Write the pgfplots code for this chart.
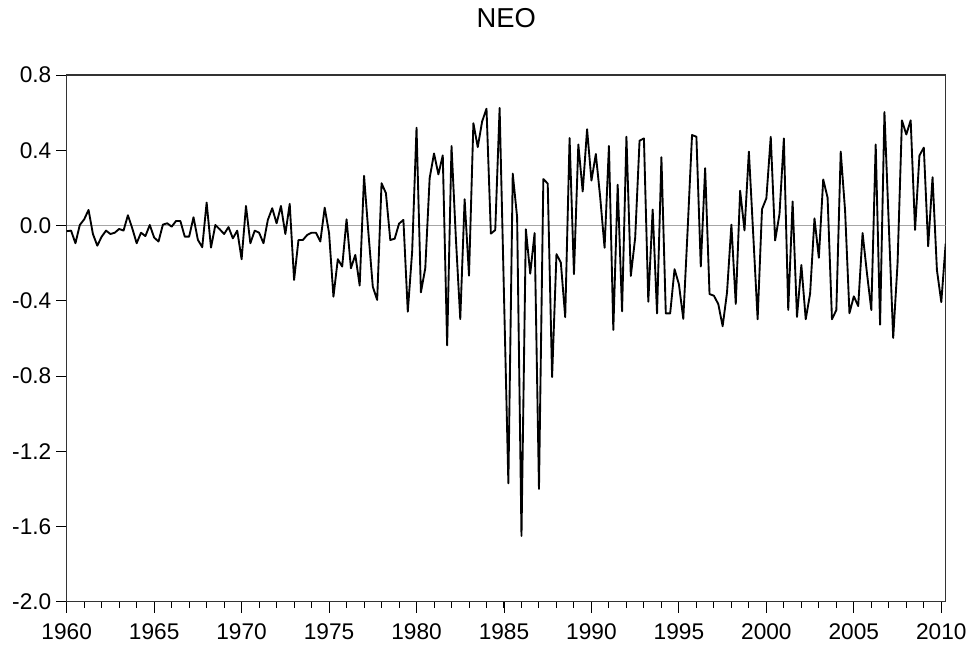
\documentclass[border=0pt]{standalone}
\usepackage{fontspec}
\setmainfont{Liberation Sans}
\usepackage{pgfplots}
\usepackage{pgfplotstable}
\pgfplotsset{compat=1.18}

% quarterly series, 1960Q1 - 2010Q2
\pgfplotstableread{
x y
1960.00 -0.030
1960.25 -0.027
1960.50 -0.094
1960.75 0.003
1961.00 0.033
1961.25 0.083
1961.50 -0.045
1961.75 -0.107
1962.00 -0.059
1962.25 -0.027
1962.50 -0.045
1962.75 -0.038
1963.00 -0.018
1963.25 -0.027
1963.50 0.055
1963.75 -0.015
1964.00 -0.094
1964.25 -0.038
1964.50 -0.056
1964.75 0.003
1965.00 -0.064
1965.25 -0.085
1965.50 0.005
1965.75 0.012
1966.00 -0.006
1966.25 0.024
1966.50 0.024
1966.75 -0.059
1967.00 -0.059
1967.25 0.044
1967.50 -0.076
1967.75 -0.115
1968.00 0.122
1968.25 -0.117
1968.50 0.003
1968.75 -0.020
1969.00 -0.045
1969.25 -0.008
1969.50 -0.068
1969.75 -0.027
1970.00 -0.179
1970.25 0.104
1970.50 -0.094
1970.75 -0.027
1971.00 -0.038
1971.25 -0.094
1971.50 0.030
1971.75 0.092
1972.00 0.012
1972.25 0.104
1972.50 -0.045
1972.75 0.115
1973.00 -0.289
1973.25 -0.077
1973.50 -0.077
1973.75 -0.050
1974.00 -0.038
1974.25 -0.038
1974.50 -0.085
1974.75 0.095
1975.00 -0.040
1975.25 -0.378
1975.50 -0.179
1975.75 -0.218
1976.00 0.033
1976.25 -0.227
1976.50 -0.156
1976.75 -0.319
1977.00 0.264
1977.25 -0.040
1977.50 -0.325
1977.75 -0.395
1978.00 0.225
1978.25 0.172
1978.50 -0.077
1978.75 -0.070
1979.00 0.010
1979.25 0.030
1979.50 -0.458
1979.75 -0.138
1980.00 0.520
1980.25 -0.355
1980.50 -0.227
1980.75 0.252
1981.00 0.383
1981.25 0.272
1981.50 0.373
1981.75 -0.637
1982.00 0.423
1982.25 -0.069
1982.50 -0.497
1982.75 0.140
1983.00 -0.266
1983.25 0.544
1983.50 0.417
1983.75 0.553
1984.00 0.621
1984.25 -0.043
1984.50 -0.024
1984.75 0.625
1985.00 -0.370
1985.25 -1.370
1985.50 0.276
1985.75 0.045
1986.00 -1.650
1986.25 -0.020
1986.50 -0.256
1986.75 -0.040
1987.00 -1.400
1987.25 0.247
1987.50 0.223
1987.75 -0.805
1988.00 -0.152
1988.25 -0.197
1988.50 -0.487
1988.75 0.465
1989.00 -0.258
1989.25 0.431
1989.50 0.181
1989.75 0.512
1990.00 0.239
1990.25 0.380
1990.50 0.150
1990.75 -0.118
1991.00 0.423
1991.25 -0.555
1991.50 0.217
1991.75 -0.456
1992.00 0.472
1992.25 -0.268
1992.50 -0.065
1992.75 0.451
1993.00 0.463
1993.25 -0.405
1993.50 0.085
1993.75 -0.467
1994.00 0.363
1994.25 -0.467
1994.50 -0.467
1994.75 -0.232
1995.00 -0.312
1995.25 -0.496
1995.50 -0.020
1995.75 0.481
1996.00 0.472
1996.25 -0.218
1996.50 0.305
1996.75 -0.364
1997.00 -0.373
1997.25 -0.417
1997.50 -0.535
1997.75 -0.356
1998.00 0.005
1998.25 -0.417
1998.50 0.185
1998.75 -0.026
1999.00 0.393
1999.25 -0.050
1999.50 -0.498
1999.75 0.087
2000.00 0.145
2000.25 0.472
2000.50 -0.079
2000.75 0.061
2001.00 0.463
2001.25 -0.449
2001.50 0.128
2001.75 -0.486
2002.00 -0.210
2002.25 -0.498
2002.50 -0.362
2002.75 0.038
2003.00 -0.171
2003.25 0.245
2003.50 0.148
2003.75 -0.498
2004.00 -0.449
2004.25 0.393
2004.50 0.079
2004.75 -0.466
2005.00 -0.376
2005.25 -0.428
2005.50 -0.040
2005.75 -0.253
2006.00 -0.449
2006.25 0.431
2006.50 -0.527
2006.75 0.603
2007.00 0.000
2007.25 -0.597
2007.50 -0.200
2007.75 0.559
2008.00 0.484
2008.25 0.559
2008.50 -0.023
2008.75 0.372
2009.00 0.414
2009.25 -0.110
2009.50 0.257
2009.75 -0.236
2010.00 -0.407
2010.25 -0.096
}\neo

\begin{document}
\begin{tikzpicture}
\begin{axis}[
  width=659pt, height=395pt, scale only axis,
  xmin=1960, xmax=2010.25, ymin=-2, ymax=0.8,
  axis line style={black!80, line width=0.8pt},
  tick pos=left, tick align=outside,
  xtick={1960,1965,...,2010}, minor xtick={1960,...,2010},
  ytick={-2,-1.6,-1.2,-0.8,-0.4,0,0.4,0.8},
  major tick length=8pt, minor tick length=4.5pt,
  every tick/.style={black, line width=0.7pt},
  x tick label style={/pgf/number format/1000 sep={}, yshift=-5pt},
  y tick label style={/pgf/number format/.cd, fixed, fixed zerofill, precision=1},
  /pgf/number format/assume math mode=true,
  tick label style={font=\fontsize{17}{20}\selectfont},
  title={NEO},
  title style={font=\fontsize{20.5}{24}\selectfont, at={(0.5,1)}, anchor=base, yshift=30pt},
]
\addplot[gray!70, line width=0.6pt, forget plot] coordinates {(1960,0) (2010.25,0)};
\addplot[black, line width=1.4pt, line join=round] table[x=x,y=y]{\neo};
\coordinate (sw) at (rel axis cs:0,0);
\coordinate (ne) at (rel axis cs:1,1);
\end{axis}
\pgfresetboundingbox
\path[use as bounding box] ([shift={(-50pt,-32.25pt)}]sw) rectangle ([shift={(22pt,56.25pt)}]ne);
\end{tikzpicture}
\end{document}
